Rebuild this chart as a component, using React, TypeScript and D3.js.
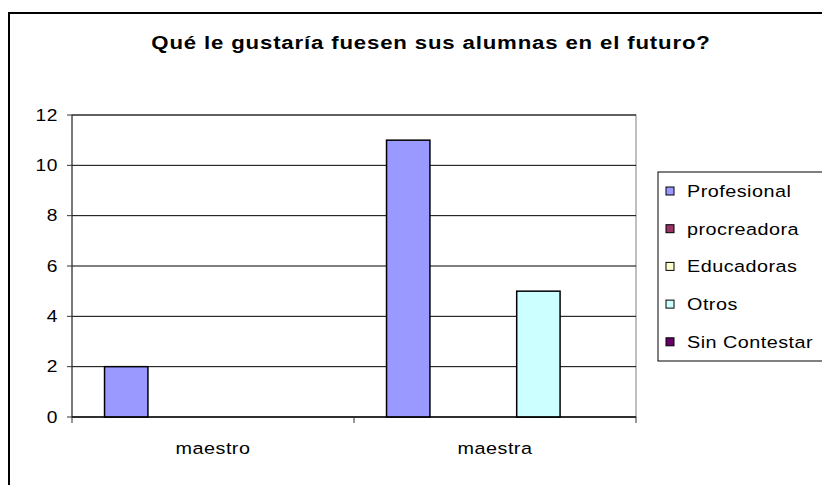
import React from "react";
import * as d3 from "d3";

const categories = ["maestro", "maestra"];
const seriesNames = ["Profesional", "procreadora", "Educadoras", "Otros", "Sin Contestar"];
const seriesColors = ["#9999FF", "#993366", "#FFFFCC", "#CCFFFF", "#660066"];
const profesional = [2, 11];
const procreadora = [0, 0];
const educadoras = [0, 0];
const otros = [0, 5];
const sinContestar = [0, 0];
const yTicks = [0, 2, 4, 6, 8, 10, 12];
const title = "Qué le gustaría fuesen sus alumnas en el futuro?";

const seriesValues = [profesional, procreadora, educadoras, otros, sinContestar];

const SX = 1.2;
const FONT = "'Liberation Sans', Arial, sans-serif";

export default function App() {
  const left = 72, right = 636, top = 115, bottom = 417;
  const x0 = d3.scaleBand<string>().domain(categories).range([left, right]).padding(0);
  const x1 = d3.scaleBand<string>().domain(seriesNames).range([0, x0.bandwidth()]).paddingInner(0).paddingOuter(0.75);
  const y = d3.scaleLinear().domain([0, 12]).range([bottom, top]);

  const legendTop = 172;
  const legendRow = 37.7;

  return (
    <svg width={822} height={485} style={{ position: "absolute", left: 0, top: 0, background: "#fff" }} fontFamily={FONT}>
      <rect x={0} y={0} width={822} height={485} fill="#fff" />
      {/* outer chart border */}
      <rect x={9} y={13} width={900} height={600} fill="none" stroke="#000" strokeWidth={2} />
      {/* title */}
      <text transform={`translate(431,49) scale(${SX},1)`} textAnchor="middle" fontSize={18.5} fontWeight="bold" letterSpacing={0.7} fill="#000">{title}</text>

      {/* plot area border */}
      <rect x={left} y={top} width={right - left} height={bottom - top} fill="#fff" stroke="#808080" strokeWidth={1} />
      {/* gridlines */}
      {yTicks.map((t) => (
        <line key={"g" + t} x1={left} x2={right} y1={y(t)} y2={y(t)} stroke="#000" strokeWidth={1} />
      ))}
      {/* y axis */}
      <line x1={left} x2={left} y1={top} y2={bottom} stroke="#333" strokeWidth={1} />
      {yTicks.map((t) => (
        <g key={"yt" + t}>
          <line x1={left - 5} x2={left} y1={y(t)} y2={y(t)} stroke="#333" />
          <text transform={`translate(${left - 14},${y(t) + 5.8}) scale(${SX},1)`} textAnchor="end" fontSize={16} letterSpacing={0.5} fill="#000">{t}</text>
        </g>
      ))}

      {/* bars */}
      {categories.map((c, ci) => (
        <g key={c} transform={`translate(${x0(c)},0)`}>
          {seriesNames.map((s, si) => {
            const v = seriesValues[si][ci];
            if (!v) return null;
            return (
              <rect key={s} x={x1(s)} y={y(v)} width={x1.bandwidth()} height={y(0) - y(v)} fill={seriesColors[si]} stroke="#000" strokeWidth={1.5} />
            );
          })}
        </g>
      ))}

      {/* x axis */}
      <line x1={left} x2={right} y1={bottom} y2={bottom} stroke="#000" strokeWidth={1} />
      {[left, ...categories.map((c) => (x0(c) as number) + x0.bandwidth())].map((xv, i) => (
        <line key={"xt" + i} x1={xv} x2={xv} y1={bottom} y2={bottom + 6} stroke="#333" />
      ))}
      {categories.map((c) => (
        <text key={"xl" + c} transform={`translate(${(x0(c) as number) + x0.bandwidth() / 2},${454}) scale(${SX},1)`} textAnchor="middle" fontSize={16.5} letterSpacing={0.4} fill="#000">{c}</text>
      ))}

      {/* legend */}
      <rect x={658} y={legendTop} width={300} height={189} fill="#fff" stroke="#000" strokeWidth={1} />
      {seriesNames.map((s, i) => {
        const cy = 191 + i * legendRow;
        return (
          <g key={"lg" + s}>
            <rect x={666} y={cy - 4} width={8} height={8} fill={seriesColors[i]} stroke="#000" strokeWidth={1} />
            <text transform={`translate(687,${cy + 6}) scale(${SX},1)`} fontSize={16.5} letterSpacing={0.4} fill="#000">{s}</text>
          </g>
        );
      })}
    </svg>
  );
}
